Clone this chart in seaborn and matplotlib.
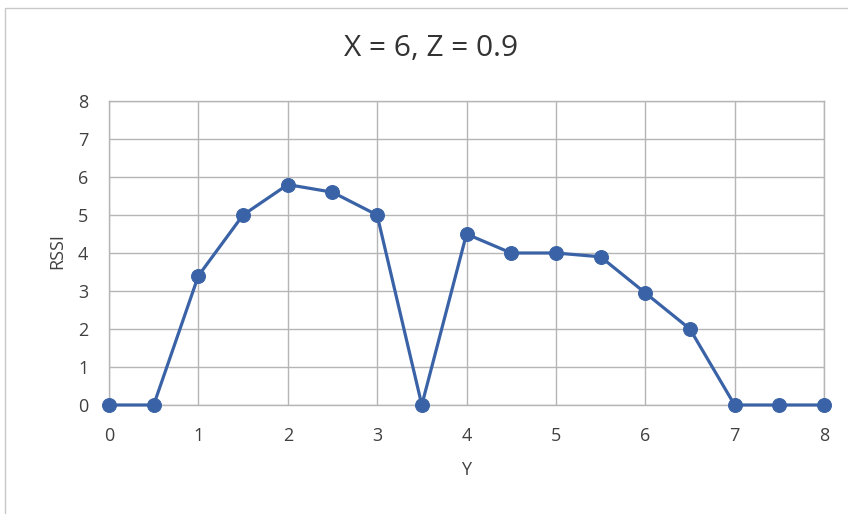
import matplotlib
matplotlib.use("Agg")
import matplotlib.pyplot as plt
import seaborn as sns
import pandas as pd
from matplotlib.patches import Rectangle

y_pos = [0, 0.5, 1, 1.5, 2, 2.5, 3, 3.5, 4, 4.5, 5, 5.5, 6, 6.5, 7, 7.5, 8]
rssi = [0, 0, 3.4, 5.0, 5.8, 5.6, 5.0, 0, 4.5, 4.0, 4.0, 3.9, 2.95, 2.0, 0, 0, 0]
x_ticks = [0, 1, 2, 3, 4, 5, 6, 7, 8]
y_ticks = [0, 1, 2, 3, 4, 5, 6, 7, 8]
title = "X = 6, Z = 0.9"

sns.set_style("white")
plt.rcParams['font.family'] = ['Open Sans', 'DejaVu Sans']

df = pd.DataFrame({"Y": y_pos, "RSSI": rssi})

fig = plt.figure(figsize=(8.48, 5.14), dpi=100)
ax = fig.add_axes([109/848, 1-405/514, (824-109)/848, (405-101)/514])

blue = "#3a62a6"
sns.lineplot(data=df, x="Y", y="RSSI", ax=ax, color=blue, linewidth=2.3,
             marker="o", markersize=10, markeredgecolor=blue, markerfacecolor=blue,
             clip_on=False, zorder=5)

ax.set_xlim(0, 8)
ax.set_ylim(0, 8)
ax.set_xticks(x_ticks)
ax.set_yticks(y_ticks)
ax.set_xticklabels([str(t) for t in x_ticks])
ax.set_yticklabels([str(t) for t in y_ticks])
ax.grid(True, color="#b5b5b5", linewidth=1)
for s in ax.spines.values():
    s.set_color("#b5b5b5")
    s.set_linewidth(1)
ax.tick_params(axis="both", length=0, labelsize=13, colors="#404040")
ax.tick_params(axis="x", pad=16)
ax.tick_params(axis="y", pad=15)
ax.set_xlabel("")
ax.set_ylabel("")

fig.text(466/848, 1-470/514, "Y", ha="center", va="center", fontsize=13, color="#404040")
fig.text(57/848, 1-251/514, "RSSI", ha="center", va="center", rotation=90, fontsize=13, color="#404040")
fig.text(431/848, 1-48/514, title, ha="center", va="center", fontsize=21.5, color="#333333")

fig.patches.append(Rectangle((5/848, -0.1), 1.1, 1-8/514+0.1, transform=fig.transFigure,
                             fill=False, edgecolor="#c8c8c8", linewidth=1))

fig.savefig("out.png", dpi=100)
